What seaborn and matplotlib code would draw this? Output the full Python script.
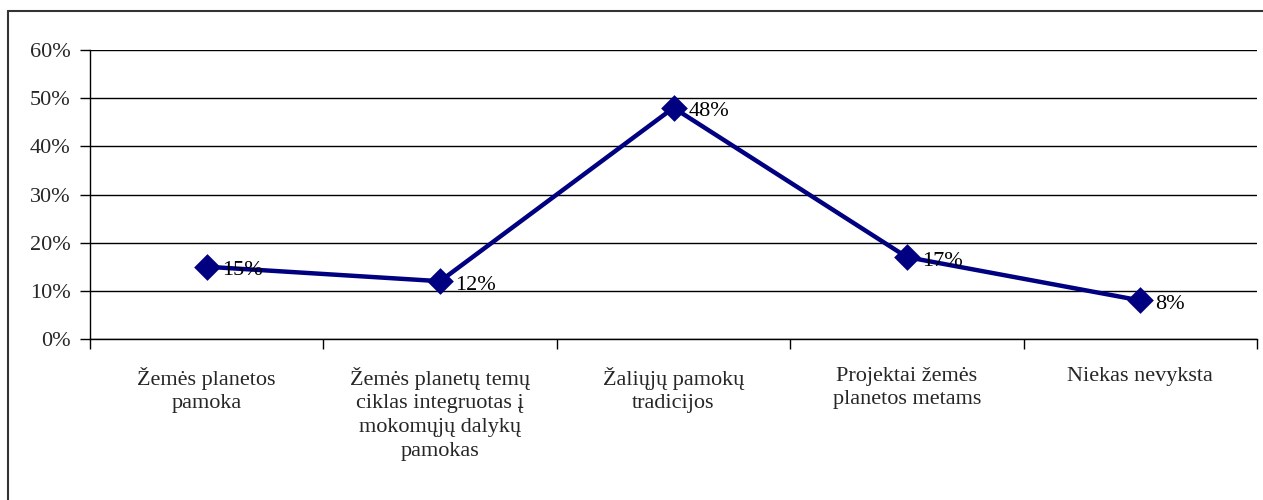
import matplotlib
matplotlib.use("Agg")
import seaborn as sns
import matplotlib.pyplot as plt
from matplotlib.lines import Line2D
from matplotlib.ticker import FixedLocator, PercentFormatter

# Chart data
categories = [
    "Žemės planetos\npamoka",
    "Žemės planetų temų\nciklas integruotas į\nmokomųjų dalykų\npamokas",
    "Žaliųjų pamokų\ntradicijos",
    "Projektai žemės\nplanetos metams",
    "Niekas nevyksta",
]
shares = [0.15, 0.12, 0.48, 0.17, 0.08]
y_ticks = [0, 0.1, 0.2, 0.3, 0.4, 0.5, 0.6]

sns.set_style("white")
plt.rcParams["font.family"] = ["Liberation Serif", "DejaVu Serif"]

navy = "#000080"
fs = 16

fig = plt.figure(figsize=(12.63, 5), dpi=100)
ax = fig.add_axes([90 / 1263, 1 - 339 / 500, 1167 / 1263, 289 / 500])

sns.pointplot(x=categories, y=shares, color=navy, markers="D", errorbar=None,
              markersize=11, linewidth=3.2, ax=ax)

# value labels to the right of each point
for i, v in enumerate(shares):
    ax.annotate(f"{v:.0%}", (i, v), xytext=(11, -3), textcoords="offset points",
                ha="left", va="center", fontsize=fs, color="black")

ax.set_xlim(-0.5, len(categories) - 0.5)
ax.set_ylim(0, 0.6)
ax.set_yticks(y_ticks)
ax.yaxis.set_major_formatter(PercentFormatter(1.0, decimals=0))
ax.yaxis.grid(True, color="black", linewidth=1)
ax.xaxis.grid(False)

# category separators as major ticks, names on minor ticks
ax.xaxis.set_major_locator(FixedLocator([i - 0.5 for i in range(len(categories) + 1)]))
ax.set_xticklabels([])
ax.xaxis.set_minor_locator(FixedLocator(range(len(categories))))
ax.set_xticklabels(categories, minor=True, fontsize=fs, ha="center", va="top",
                   linespacing=1.33)
ax.tick_params(axis="x", which="major", bottom=True, length=7, width=1, direction="out", color="black")
ax.tick_params(axis="x", which="minor", bottom=True, length=0, pad=20)
ax.tick_params(axis="y", left=True, length=7, width=1, direction="out", color="black",
               labelsize=fs, pad=7)
ax.set_xlabel("")
ax.set_ylabel("")

for side in ["top", "right"]:
    ax.spines[side].set_visible(False)
for side in ["left", "bottom"]:
    ax.spines[side].set_color("black")
    ax.spines[side].set_linewidth(1)

# outer chart frame (left and top edges visible)
x0 = 8 / 1263
y0 = 1 - 11 / 500
fig.add_artist(Line2D([x0, x0], [0, y0], transform=fig.transFigure, color="#333333", lw=1.5))
fig.add_artist(Line2D([x0, 1], [y0, y0], transform=fig.transFigure, color="#333333", lw=1.5))

plt.savefig("out.png", dpi=100)
